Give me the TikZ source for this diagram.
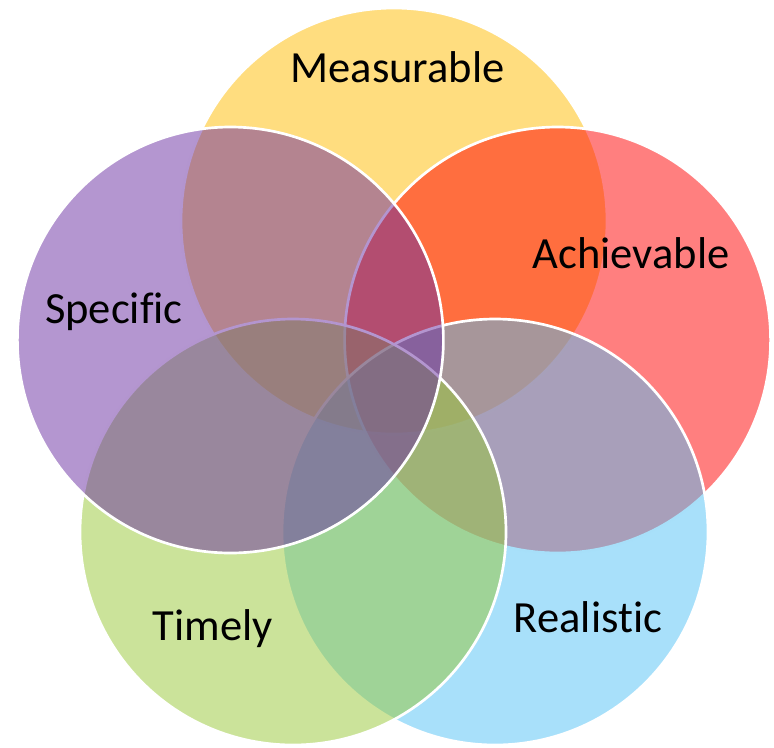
\documentclass[tikz,border=0pt]{standalone}
\usepackage{fontspec}
\setmainfont{Carlito}[Ligatures=NoCommon]
\definecolor{smYellow}{RGB}{255,187,0}
\definecolor{smRed}{RGB}{255,0,0}
\definecolor{smBlue}{RGB}{81,193,245}
\definecolor{smGreen}{RGB}{152,200,54}
\definecolor{smPurple}{RGB}{105,45,161}
\tikzset{
  venn/.style={draw=white,line width=2pt,fill opacity=0.5},
  lbl/.style={anchor=base,font=\fontsize{33.4}{40}\selectfont}
}
\begin{document}
\begin{tikzpicture}[x=0.75pt,y=-0.75pt]
    \useasboundingbox (0,0) rectangle (774,747);
    \filldraw [venn,fill=smYellow] (394,221) circle (213);
    \filldraw [venn,fill=smRed] (557.6,340) circle (213);
    \filldraw [venn,fill=smBlue] (495,532) circle (213);
    \filldraw [venn,fill=smGreen] (293,532) circle (213);
    \filldraw [venn,fill=smPurple] (230.4,340) circle (213);

    \node [lbl] (meas) at (397.5,82) {Measurable};
    \node [lbl] (achv) at (631,268.5) {Achievable};
    \node [lbl] (real) at (588,632) {Realistic};
    \node [lbl] (time) at (213,640) {Timely};
    \node [lbl] (spec) at (114,323) {Specific};
\end{tikzpicture}
\end{document}
